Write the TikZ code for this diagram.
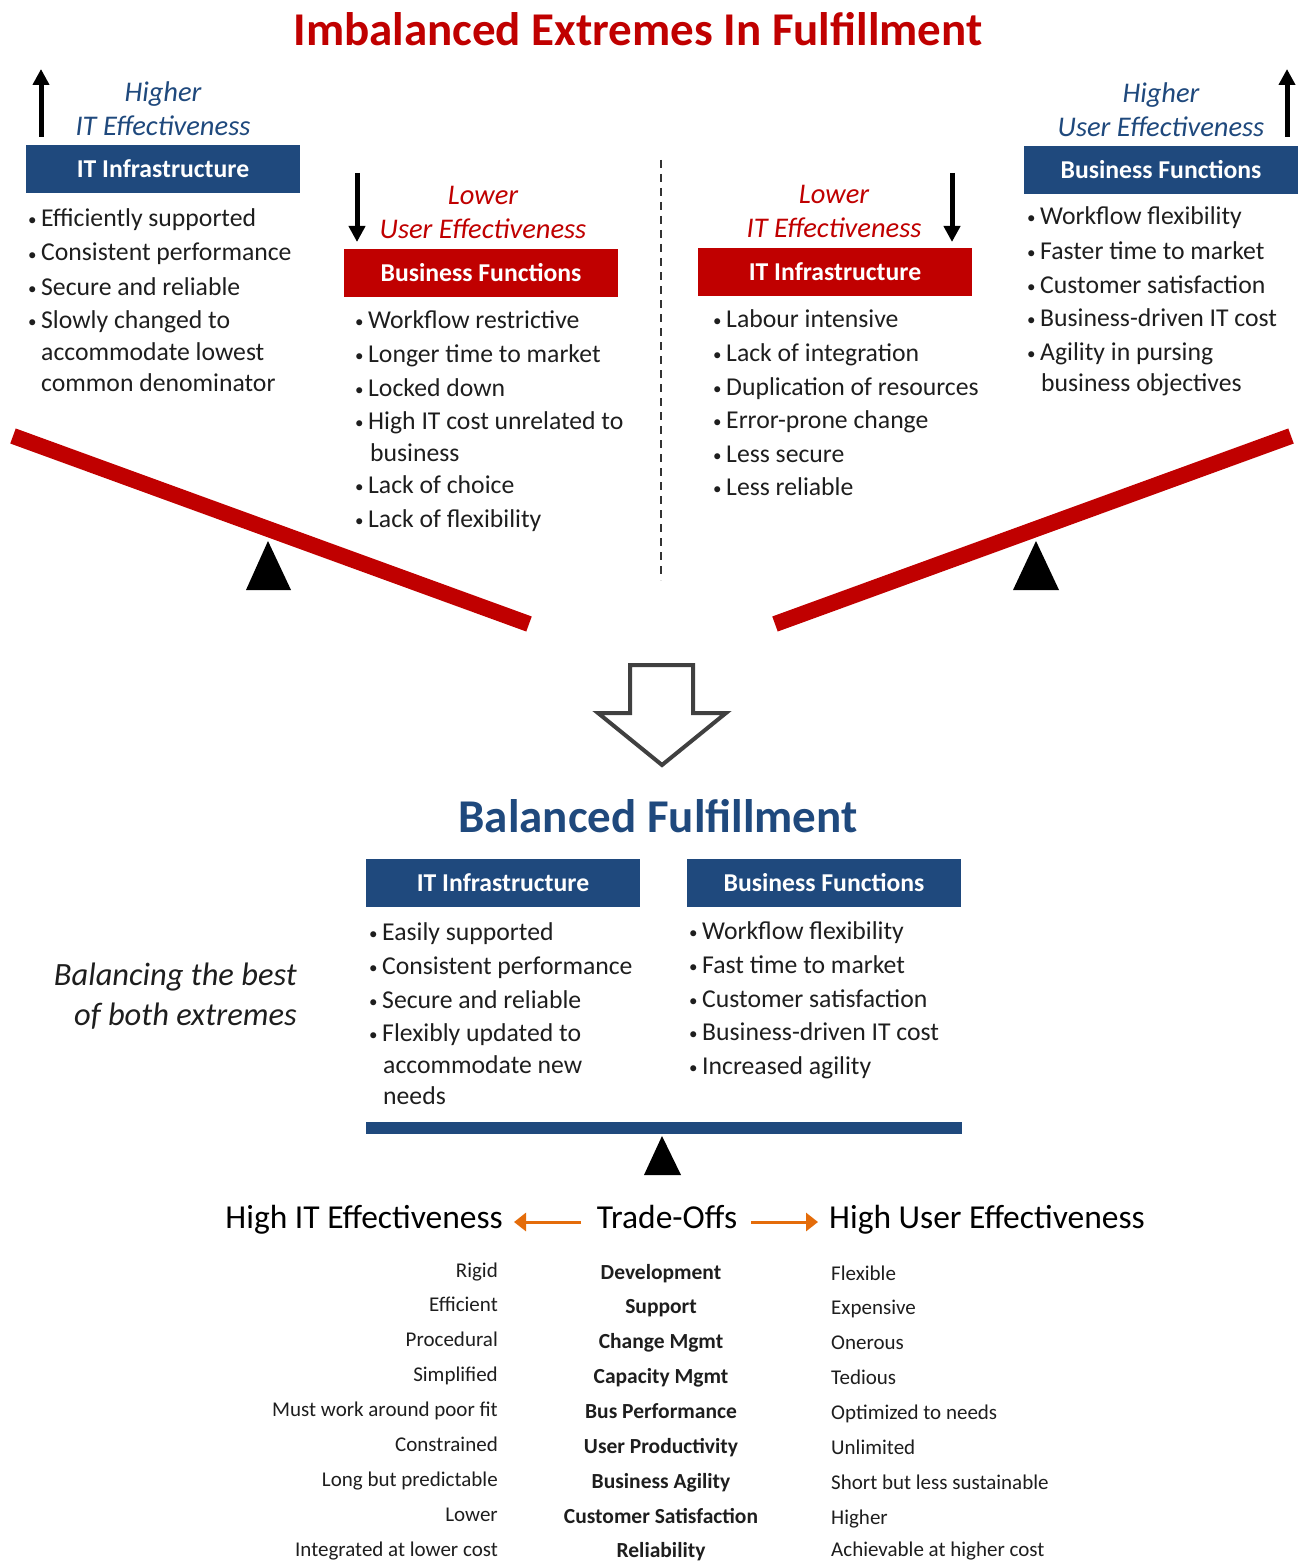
\documentclass[tikz,border=0pt]{standalone}
\usepackage{fontspec}
\setmainfont{Carlito}
\usetikzlibrary{arrows.meta}
\definecolor{bblue}{RGB}{31,73,125}
\definecolor{bred}{RGB}{192,0,0}
\definecolor{aorange}{RGB}{228,108,10}
\definecolor{agray}{RGB}{64,64,64}
\definecolor{txt}{RGB}{30,30,30}
\newcommand\bulitem[1]{\makebox[13pt][l]{\fontsize{17}{17}\selectfont\raisebox{1pt}{•}}#1}
\tikzset{
  hbox/.style={minimum width=274pt, minimum height=48pt, inner sep=0pt, text=white,
    font=\fontsize{25.7}{30}\selectfont\bfseries},
  bluehead/.style={hbox, fill=bblue},
  redhead/.style={hbox, fill=bred},
  item/.style={anchor=west, inner sep=0pt, text height=24pt, text depth=6pt,
    font=\fontsize{25.7}{30}\selectfont, text=txt},
  elabel/.style={inner sep=0pt, align=center, font=\fontsize{28.5}{34}\selectfont\itshape},
  bigarrow/.style={line width=5pt, -{Triangle[length=16pt,width=16pt]}},
  beam/.style={line width=16pt, bred},
  fulcrum/.style={fill=black},
  tradehead/.style={inner sep=0pt, text height=28pt, text depth=7pt, font=\fontsize{33.5}{38}\selectfont, text=black},
  orarrow/.style={line width=3pt, aorange, -{Triangle[length=12pt,width=18pt]}},
  low/.style={inner sep=0pt, text height=18pt, text depth=4pt, font=\fontsize{21}{24}\selectfont, text=txt},
  lowb/.style={low, font=\fontsize{21.5}{24}\selectfont\bfseries}
}
\begin{document}
\begin{tikzpicture}[x=1pt,y=-1pt]
\useasboundingbox (0,0) rectangle (1302,1562);
\fill[white] (0,0) rectangle (1302,1562);

% Title
\node[font=\fontsize{47}{54}\selectfont\bfseries, text=bred, inner sep=0pt] (title) at (638,29) {Imbalanced Extremes In Fulfillment};

% ---------- Left extreme: IT high
\node[elabel, text=bblue] (lblA) at (163,109) {Higher\\IT Effectiveness};
\coordinate (aA1) at (41,137); \coordinate (aA2) at (41,69);
\draw[bigarrow] (aA1) -- (aA2);
\node[bluehead] (hA) at (163,169) {IT Infrastructure};
\node[item] (a1) at (28,218) {\bulitem{Efficiently supported}};
\node[item] (a2) at (28,252) {\bulitem{Consistent performance}};
\node[item] (a3) at (28,286) {\bulitem{Secure and reliable}};
\node[item] (a4) at (28,319) {\bulitem{Slowly changed to}};
\node[item] (a5) at (41,351) {accommodate lowest};
\node[item] (a6) at (41,382) {common denominator};

% ---------- Mid-left: User low
\node[elabel, text=bred] (lblB) at (483,212) {Lower\\User Effectiveness};
\coordinate (aB1) at (357,173); \coordinate (aB2) at (357,242);
\draw[bigarrow] (aB1) -- (aB2);
\node[redhead] (hB) at (481,273) {Business Functions};
\node[item] (b1) at (355,319) {\bulitem{Workflow restrictive}};
\node[item] (b2) at (355,353) {\bulitem{Longer time to market}};
\node[item] (b3) at (355,387) {\bulitem{Locked down}};
\node[item] (b4) at (355,420) {\bulitem{High IT cost unrelated to}};
\node[item] (b5) at (370,452) {business};
\node[item] (b6) at (355,484) {\bulitem{Lack of choice}};
\node[item] (b7) at (355,518) {\bulitem{Lack of flexibility}};

% dashed divider
\coordinate (d1) at (661,160); \coordinate (d2) at (661,580);
\draw[line width=2pt, dash pattern=on 8pt off 6pt, black!80] (d1) -- (d2);

% ---------- Mid-right: IT low
\node[elabel, text=bred] (lblC) at (834,211) {Lower\\IT Effectiveness};
\coordinate (aC1) at (952,173); \coordinate (aC2) at (952,242);
\draw[bigarrow] (aC1) -- (aC2);
\node[redhead] (hC) at (835,272) {IT Infrastructure};
\node[item] (c1) at (713,318) {\bulitem{Labour intensive}};
\node[item] (c2) at (713,352) {\bulitem{Lack of integration}};
\node[item] (c3) at (713,386) {\bulitem{Duplication of resources}};
\node[item] (c4) at (713,419) {\bulitem{Error-prone change}};
\node[item] (c5) at (713,453) {\bulitem{Less secure}};
\node[item] (c6) at (713,486) {\bulitem{Less reliable}};

% ---------- Right extreme: User high
\node[elabel, text=bblue] (lblD) at (1161,110) {Higher\\User Effectiveness};
\coordinate (aD1) at (1287,137); \coordinate (aD2) at (1287,69);
\draw[bigarrow] (aD1) -- (aD2);
\node[bluehead] (hD) at (1161,170) {Business Functions};
\node[item] (e1) at (1027,216) {\bulitem{Workflow flexibility}};
\node[item] (e2) at (1027,250) {\bulitem{Faster time to market}};
\node[item] (e3) at (1027,284) {\bulitem{Customer satisfaction}};
\node[item] (e4) at (1027,317) {\bulitem{Business-driven IT cost}};
\node[item] (e5) at (1027,351) {\bulitem{Agility in pursing}};
\node[item] (e6) at (1041,382) {business objectives};

% ---------- Seesaws
\coordinate (bl1) at (13,436); \coordinate (bl2) at (529,624);
\draw[beam] (bl1) -- (bl2);
\coordinate (fl) at (268,541);
\fill[fulcrum] (fl) -- (291,590) -- (246,590) -- cycle;
\coordinate (br1) at (775,624); \coordinate (br2) at (1291,436);
\draw[beam] (br1) -- (br2);
\coordinate (fr) at (1036,541);
\fill[fulcrum] (fr) -- (1059,590) -- (1013,590) -- cycle;

% ---------- Hollow down arrow
\draw[agray, line width=4pt, line join=miter, fill=white]
  (630,665) -- (693,665) -- (693,713) -- (726,713) -- (662,765) -- (598,713) -- (630,713) -- cycle;

% ---------- Balanced
\node[font=\fontsize{47}{54}\selectfont\bfseries, text=bblue, inner sep=0pt] (bal) at (658,816) {Balanced Fulfillment};
\node[inner sep=0pt, align=right, anchor=east, font=\fontsize{32.5}{40}\selectfont\itshape, text=txt] (balnote) at (297,996) {Balancing the best\\of both extremes};

\node[bluehead] (hE) at (503,883) {IT Infrastructure};
\node[item] (f1) at (369,931) {\bulitem{Easily supported}};
\node[item] (f2) at (369,965) {\bulitem{Consistent performance}};
\node[item] (f3) at (369,999) {\bulitem{Secure and reliable}};
\node[item] (f4) at (369,1032) {\bulitem{Flexibly updated to}};
\node[item] (f5) at (383,1064) {accommodate new};
\node[item] (f6) at (383,1095) {needs};

\node[bluehead] (hF) at (824,883) {Business Functions};
\node[item] (g1) at (689,930) {\bulitem{Workflow flexibility}};
\node[item] (g2) at (689,964) {\bulitem{Fast time to market}};
\node[item] (g3) at (689,998) {\bulitem{Customer satisfaction}};
\node[item] (g4) at (689,1031) {\bulitem{Business-driven IT cost}};
\node[item] (g5) at (689,1065) {\bulitem{Increased agility}};

\fill[bblue] (366,1122) rectangle (962,1134);
\coordinate (fb) at (662,1136);
\fill[fulcrum] (fb) -- (681,1175) -- (644,1175) -- cycle;

% ---------- Trade-offs
\node[tradehead, anchor=east] (hiIT) at (503,1218) {High IT Effectiveness};
\node[tradehead] (trade) at (667,1218) {Trade-Offs};
\node[tradehead, anchor=west] (hiUser) at (829,1218) {High User Effectiveness};
\coordinate (oL1) at (581,1222); \coordinate (oL2) at (514,1222);
\coordinate (oR1) at (751,1222); \coordinate (oR2) at (818,1222);
\draw[orarrow] (oL1) -- (oL2);
\draw[orarrow] (oR1) -- (oR2);

% left column
\node[low, anchor=east] (l1) at (498,1270) {Rigid};
\node[low, anchor=east] (l2) at (498,1304) {Efficient};
\node[low, anchor=east] (l3) at (498,1339) {Procedural};
\node[low, anchor=east] (l4) at (498,1374) {Simplified};
\node[low, anchor=east] (l5) at (498,1409) {Must work around poor fit};
\node[low, anchor=east] (l6) at (498,1444) {Constrained};
\node[low, anchor=east] (l7) at (498,1479) {Long but predictable};
\node[low, anchor=east] (l8) at (498,1514) {Lower};
\node[low, anchor=east] (l9) at (498,1549) {Integrated at lower cost};
% center column
\node[lowb] (m1) at (661,1272) {Development};
\node[lowb] (m2) at (661,1306) {Support};
\node[lowb] (m3) at (661,1341) {Change Mgmt};
\node[lowb] (m4) at (661,1376) {Capacity Mgmt};
\node[lowb] (m5) at (661,1411) {Bus Performance};
\node[lowb] (m6) at (661,1446) {User Productivity};
\node[lowb] (m7) at (661,1481) {Business Agility};
\node[lowb] (m8) at (661,1516) {Customer Satisfaction};
\node[lowb] (m9) at (661,1550) {Reliability};
% right column
\node[low, anchor=west] (r1) at (831,1273) {Flexible};
\node[low, anchor=west] (r2) at (831,1307) {Expensive};
\node[low, anchor=west] (r3) at (831,1342) {Onerous};
\node[low, anchor=west] (r4) at (831,1377) {Tedious};
\node[low, anchor=west] (r5) at (831,1412) {Optimized to needs};
\node[low, anchor=west] (r6) at (831,1447) {Unlimited};
\node[low, anchor=west] (r7) at (831,1482) {Short but less sustainable};
\node[low, anchor=west] (r8) at (831,1517) {Higher};
\node[low, anchor=west] (r9) at (831,1549) {Achievable at higher cost};
\end{tikzpicture}
\end{document}
